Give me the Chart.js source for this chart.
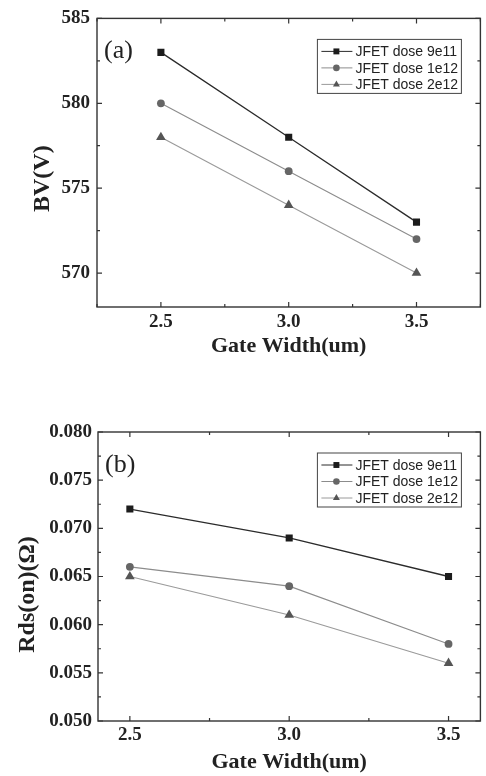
<!DOCTYPE html>
<html>
<head>
<meta charset="utf-8">
<script src="https://cdn.jsdelivr.net/npm/chart.js@4.4.1/dist/chart.umd.min.js"></script>
<style>
  html, body { margin: 0; padding: 0; background: #fff; }
  .panel { position: absolute; left: 0; width: 486px; height: 388px; }
</style>
</head>
<body>
<div class="panel" style="top:0"><canvas id="chartA"></canvas></div>
<div class="panel" style="top:388px"><canvas id="chartB"></canvas></div>
<script>
// gate width (um)
const gateWidth = [2.5, 3.0, 3.5];
const seriesNames = ['JFET dose 9e11', 'JFET dose 1e12', 'JFET dose 2e12'];

// (a) breakdown voltage BV (V)
const bv9e11 = [583, 578, 573];
const bv1e12 = [580, 576, 572];
const bv2e12 = [578, 574, 570];

// (b) Rds(on) (ohm)
const rds9e11 = [0.072, 0.069, 0.065];
const rds1e12 = [0.066, 0.064, 0.058];
const rds2e12 = [0.065, 0.061, 0.056];

// tick labels
const xTicks = [2.5, 3.0, 3.5];
const bvTicks = [570, 575, 580, 585];
const rdsTicks = [0.050, 0.055, 0.060, 0.065, 0.070, 0.075, 0.080];

const serif = "'Liberation Serif', 'Times New Roman', serif";
const sans = "'Liberation Sans', Arial, sans-serif";

const looks = [
    { line: '#2b2b2b', point: '#1c1c1c', shape: 'rect', r: 5, w: 1.3 },
    { line: '#8c8c8c', point: '#666666', shape: 'circle', r: 3.9, w: 1.1 },
    { line: '#9a9a9a', point: '#555555', shape: 'triangle', r: 5.6, w: 1.1 }
];

function makeDatasets(series) {
    return series.map((vals, i) => ({
        label: seriesNames[i],
        data: gateWidth.map((g, k) => ({ x: g, y: vals[k] })),
        borderColor: looks[i].line,
        borderWidth: looks[i].w,
        backgroundColor: looks[i].point,
        pointBackgroundColor: looks[i].point,
        pointBorderColor: looks[i].point,
        pointBorderWidth: 0,
        pointStyle: looks[i].shape,
        pointRadius: looks[i].r,
        tension: 0
    }));
}

function drawMarker(ctx, shape, x, y, r, color) {
    ctx.fillStyle = color;
    ctx.beginPath();
    if (shape === 'rect') {
        const s = r * Math.SQRT1_2;
        ctx.rect(x - s, y - s, 2 * s, 2 * s);
    } else if (shape === 'circle') {
        ctx.arc(x, y, r, 0, Math.PI * 2);
    } else {
        ctx.moveTo(x, y - r);
        ctx.lineTo(x + r * 0.866, y + r * 0.5);
        ctx.lineTo(x - r * 0.866, y + r * 0.5);
        ctx.closePath();
    }
    ctx.fill();
}

// frame, inward ticks on all sides, y title, panel tag and boxed legend
const framePlugin = {
    id: 'frame',
    afterDraw(chart, args, opts) {
        const { ctx, chartArea: a } = chart;
        const sx = chart.scales.x, sy = chart.scales.y;
        ctx.save();
        ctx.strokeStyle = '#333';
        ctx.lineWidth = 1.4;
        ctx.strokeRect(a.left, a.top, a.right - a.left, a.bottom - a.top);

        const tickSet = (scale, arr) => {
            const step = arr[1] - arr[0];
            const out = [];
            for (let v = arr[0] - step / 2; v <= arr[arr.length - 1] + step / 2 + 1e-9; v += step / 2) {
                if (v >= scale.min - 1e-9 && v <= scale.max + 1e-9) {
                    const major = arr.some(t => Math.abs(t - v) < step / 100);
                    out.push({ p: scale.getPixelForValue(v), len: major ? 5 : 3 });
                }
            }
            return out;
        };
        ctx.lineWidth = 1.2;
        ctx.beginPath();
        tickSet(sx, opts.xt).forEach(t => {
            ctx.moveTo(t.p, a.bottom); ctx.lineTo(t.p, a.bottom - t.len);
            ctx.moveTo(t.p, a.top); ctx.lineTo(t.p, a.top + t.len);
        });
        tickSet(sy, opts.yt).forEach(t => {
            ctx.moveTo(a.left, t.p); ctx.lineTo(a.left + t.len, t.p);
            ctx.moveTo(a.right, t.p); ctx.lineTo(a.right - t.len, t.p);
        });
        ctx.stroke();

        // y axis title (sits a little below the axis middle, as in the original)
        ctx.fillStyle = '#222';
        ctx.save();
        ctx.translate(opts.titleX, (a.top + a.bottom) / 2 + opts.titleShift);
        ctx.rotate(-Math.PI / 2);
        ctx.font = 'bold 24px ' + serif;
        ctx.textAlign = 'center';
        ctx.textBaseline = 'middle';
        ctx.fillText(opts.yTitle, 0, 0);
        ctx.restore();

        // panel tag
        ctx.font = '26px ' + serif;
        ctx.textAlign = 'left';
        ctx.textBaseline = 'middle';
        ctx.fillText(opts.tag, a.left + 7, a.top + 33);

        // legend
        const bx = a.right - 163, by = a.top + 21, bw = 144, bh = 54;
        ctx.strokeStyle = '#444';
        ctx.lineWidth = 1;
        ctx.strokeRect(bx, by, bw, bh);
        ctx.font = '14px ' + sans;
        chart.data.datasets.forEach((ds, i) => {
            const yy = by + 12 + i * 16.5;
            ctx.strokeStyle = looks[i].line;
            ctx.lineWidth = 1;
            ctx.beginPath();
            ctx.moveTo(bx + 4, yy); ctx.lineTo(bx + 35, yy);
            ctx.stroke();
            drawMarker(ctx, looks[i].shape, bx + 19, yy, i === 0 ? 4.2 : (i === 1 ? 3.3 : 4), looks[i].point);
            ctx.fillStyle = '#222';
            ctx.fillText(ds.label, bx + 38, yy + 1);
        });
        ctx.restore();
    }
};

function makeChart(id, series, cfg) {
    new Chart(document.getElementById(id), {
        type: 'line',
        data: { datasets: makeDatasets(series) },
        plugins: [framePlugin],
        options: {
            responsive: true,
            maintainAspectRatio: false,
            animation: false,
            layout: { padding: { top: cfg.padTop, right: cfg.padRight, left: 0, bottom: 0 } },
            plugins: {
                legend: { display: false },
                tooltip: { enabled: false },
                frame: { xt: xTicks, yt: cfg.yTicks, tag: cfg.tag, yTitle: cfg.yTitle, titleX: cfg.titleX, titleShift: cfg.titleShift }
            },
            scales: {
                x: {
                    type: 'linear',
                    min: cfg.xMin, max: cfg.xMax,
                    grid: { display: false, drawTicks: false },
                    border: { display: false },
                    afterBuildTicks: s => { s.ticks = xTicks.map(v => ({ value: v })); },
                    afterFit: s => { s.height = cfg.xHeight; },
                    ticks: {
                        padding: cfg.xTickPad,
                        color: '#222',
                        font: { family: serif, weight: 'bold', size: 19 },
                        callback: v => v.toFixed(1)
                    },
                    title: {
                        display: true,
                        text: 'Gate Width(um)',
                        color: '#222',
                        font: { family: serif, weight: 'bold', size: 22 },
                        padding: { top: 0, bottom: cfg.xTitlePad }
                    }
                },
                y: {
                    type: 'linear',
                    min: cfg.yMin, max: cfg.yMax,
                    grid: { display: false, drawTicks: false },
                    border: { display: false },
                    afterBuildTicks: s => { s.ticks = cfg.yTicks.map(v => ({ value: v })); },
                    afterFit: s => { s.width = cfg.yWidth; },
                    ticks: {
                        padding: cfg.yTickPad,
                        color: '#222',
                        font: { family: serif, weight: 'bold', size: 19 },
                        callback: v => v.toFixed(cfg.digits)
                    },
                    title: { display: false }
                }
            }
        }
    });
}

makeChart('chartA', [bv9e11, bv1e12, bv2e12], {
    tag: '(a)', yTitle: 'BV(V)', yTicks: bvTicks, digits: 0,
    xMin: 2.25, xMax: 3.75, yMin: 568, yMax: 585,
    padTop: 16, padRight: 5, yWidth: 97, xHeight: 81,
    xTickPad: 4, xTitlePad: 28, yTickPad: 7, titleX: 43, titleShift: 16
});

makeChart('chartB', [rds9e11, rds1e12, rds2e12], {
    tag: '(b)', yTitle: 'Rds(on)(\u03A9)', yTicks: rdsTicks, digits: 3,
    xMin: 2.4, xMax: 3.6, yMin: 0.05, yMax: 0.08,
    padTop: 44, padRight: 4, yWidth: 98, xHeight: 55,
    xTickPad: 3, xTitlePad: 0, yTickPad: 6, titleX: 28, titleShift: 18
});
</script>
</body>
</html>
